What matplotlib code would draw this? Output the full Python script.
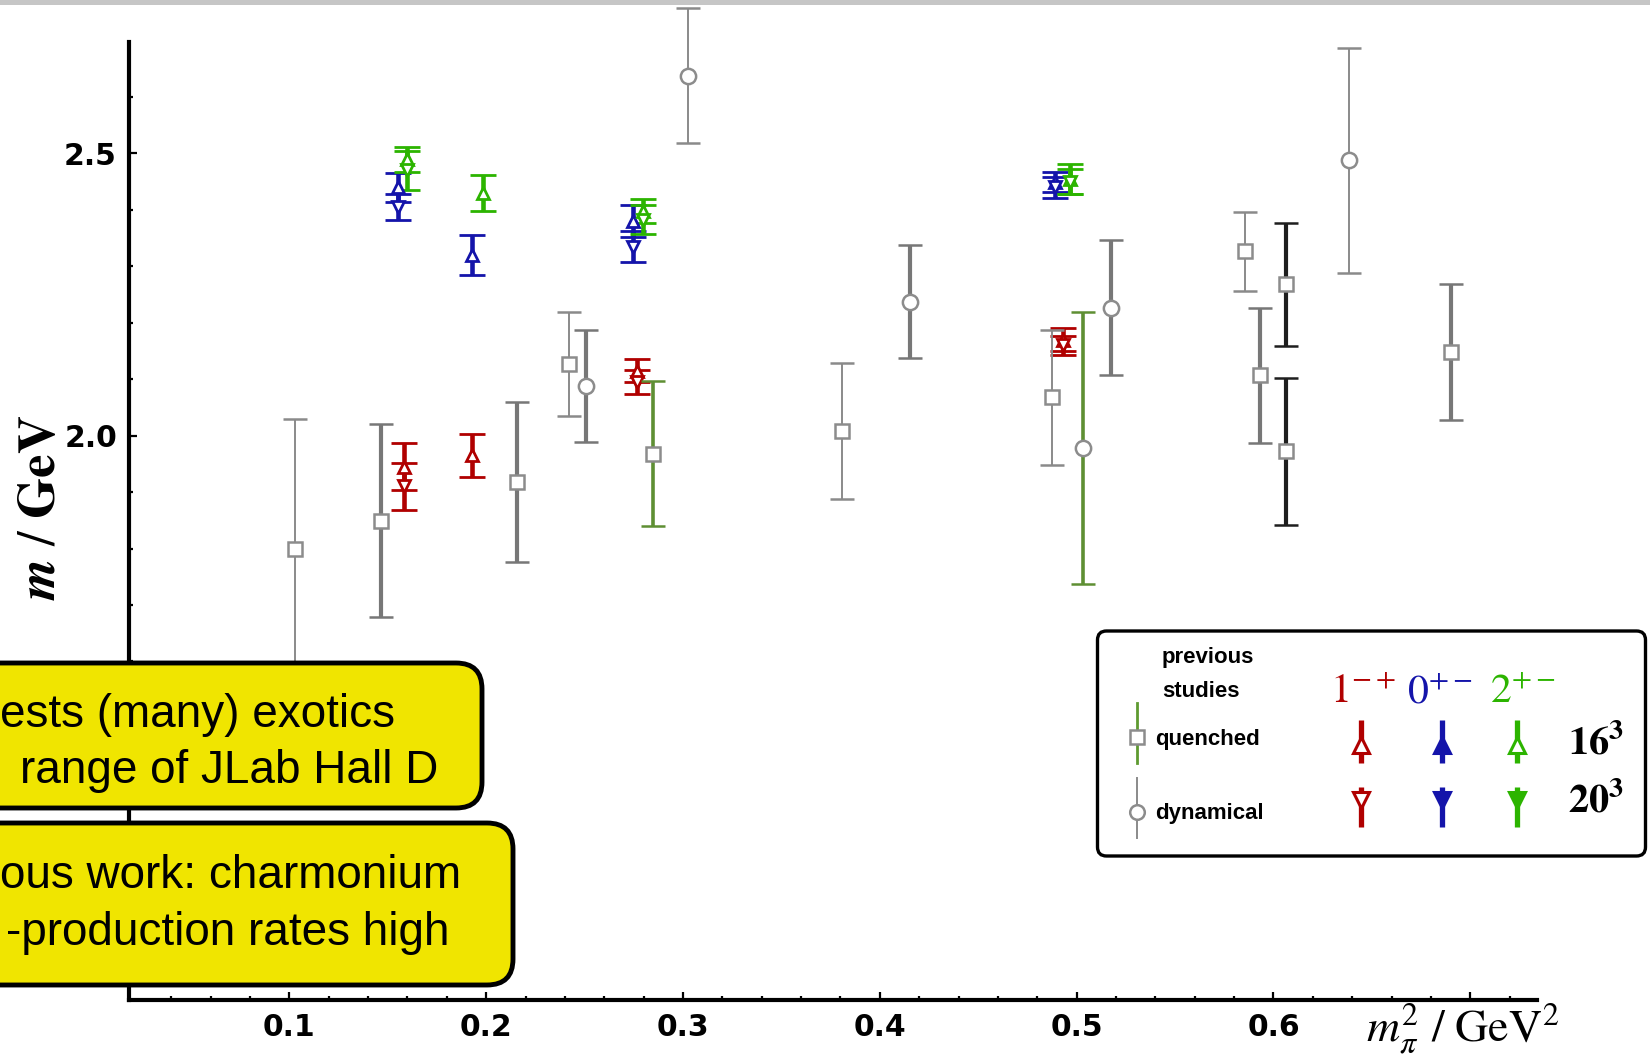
import matplotlib
matplotlib.use("Agg")
import matplotlib.pyplot as plt
from matplotlib.patches import FancyBboxPatch, Rectangle
from matplotlib.ticker import FixedLocator

plt.rcParams['mathtext.fontset'] = 'stix'

# ---------------- data ----------------
# previous studies, quenched (squares)
q_thin_x = [0.103, 0.242, 0.3806, 0.4875, 0.5853]
q_thin_y = [1.799, 2.127, 2.008, 2.068, 2.327]
q_thin_err = [0.231, 0.092, 0.121, 0.120, 0.070]

q_thick_x = [0.1465, 0.2155, 0.593, 0.690]
q_thick_y = [1.849, 1.918, 2.107, 2.148]
q_thick_err = [0.171, 0.141, 0.120, 0.121]

q_green_x = [0.2845]
q_green_y = [1.968]
q_green_err = [0.128]

q_black_x = [0.6066, 0.6066]
q_black_y = [2.268, 1.972]
q_black_err = [0.109, 0.130]

# previous studies, dynamical (circles)
d_thin_x = [0.3027, 0.6384]
d_thin_y = [2.638, 2.488]
d_thin_err = [0.119, 0.199]

d_thick_x = [0.2508, 0.4154, 0.5173]
d_thick_y = [2.088, 2.237, 2.227]
d_thick_err = [0.100, 0.100, 0.120]

d_green_x = [0.5033]
d_green_y = [1.978]
d_green_err = [0.241]

# this work: 1-+ (red), 0+- (blue), 2+- (green); 16^3 and 20^3 volumes
r16_x = [0.158, 0.193, 0.2765, 0.493]
r16_y = [1.945, 1.965, 2.115, 2.170]
r16_err = [0.042, 0.038, 0.020, 0.020]
r20_x = [0.158, 0.2765, 0.493]
r20_y = [1.910, 2.095, 2.160]
r20_err = [0.042, 0.022, 0.017]

b16_x = [0.155, 0.193, 0.2747, 0.489]
b16_y = [2.440, 2.320, 2.380, 2.450]
b16_err = [0.026, 0.035, 0.028, 0.018]
b20_x = [0.155, 0.2747, 0.489]
b20_y = [2.405, 2.335, 2.440]
b20_err = [0.023, 0.027, 0.018]

g16_x = [0.160, 0.1984, 0.2797, 0.4966]
g16_y = [2.490, 2.430, 2.398, 2.455]
g16_err = [0.022, 0.032, 0.022, 0.026]
g20_x = [0.160, 0.2797, 0.4966]
g20_y = [2.470, 2.383, 2.450]
g20_err = [0.035, 0.025, 0.022]

x_major = [0.1, 0.2, 0.3, 0.4, 0.5, 0.6, 0.7]
x_labels = ['0.1', '0.2', '0.3', '0.4', '0.5', '0.6', '']
y_major = [2.0, 2.5]
y_labels = ['2.0', '2.5']

box1_lines = ["ests (many) exotics", "range of JLab Hall D"]
box2_lines = ["ous work: charmonium", "-production rates high"]

# ---------------- figure ----------------
W, H = 1650, 1063
fig = plt.figure(figsize=(W / 100, H / 100), dpi=100)
fig.patch.set_facecolor('white')

ax_l, ax_r, ax_b, ax_t = 129.4, 1537, 1000, 0
ax = fig.add_axes([ax_l / W, 1 - ax_b / H, (ax_r - ax_l) / W, (ax_b - ax_t) / H])
ax.set_xlim(0.0187, 0.7339)
ax.set_ylim(1.0, 2.772)
for s in ['top', 'right']:
    ax.spines[s].set_visible(False)
for s in ['left', 'bottom']:
    ax.spines[s].set_linewidth(3)
ax.spines['left'].set_bounds(1.0, 2.698)
ax.patch.set_visible(False)

ax.xaxis.set_major_locator(FixedLocator(x_major))
ax.set_xticklabels(x_labels)
ax.xaxis.set_minor_locator(FixedLocator([0.04 + 0.02 * i for i in range(35) if round((0.04 + 0.02 * i) * 100) % 10 != 0]))
ax.yaxis.set_major_locator(FixedLocator(y_major))
ax.set_yticklabels(y_labels)
ax.yaxis.set_minor_locator(FixedLocator([1.1 + 0.1 * i for i in range(16) if abs(1.1 + 0.1 * i - 2.0) > 1e-6 and abs(1.1 + 0.1 * i - 2.5) > 1e-6]))
ax.tick_params(which='both', direction='in', width=1.6, pad=9)
ax.tick_params(which='major', length=5.5)
ax.tick_params(which='minor', length=3.2)
for lab in ax.get_xticklabels() + ax.get_yticklabels():
    lab.set_fontfamily('DejaVu Sans')
    lab.set_fontweight('bold')
    lab.set_fontsize(21.5)

# colored results
cols = {'r': '#b00000', 'b': '#1414aa', 'g': '#2cb400'}
def res(x, y, e, c, m):
    ax.errorbar(x, y, yerr=e, fmt=m, color=c, ecolor=c, elinewidth=3.3,
                capsize=9.2, capthick=3.6, ms=9, mfc='white', mec=c, mew=2.0,
                zorder=3)

res(r16_x, r16_y, r16_err, cols['r'], '^')
res(r20_x, r20_y, r20_err, cols['r'], 'v')
res(b16_x, b16_y, b16_err, cols['b'], '^')
res(b20_x, b20_y, b20_err, cols['b'], 'v')
res(g16_x, g16_y, g16_err, cols['g'], '^')
res(g20_x, g20_y, g20_err, cols['g'], 'v')

# previous studies
prev_styles = {
    'thin': dict(ecolor='#8a8a8a', elinewidth=1.4, capthick=1.8),
    'thick': dict(ecolor='#777777', elinewidth=3.0, capthick=3.0),
    'green': dict(ecolor='#5e8f33', elinewidth=2.6, capthick=2.8),
    'black': dict(ecolor='#1e1e1e', elinewidth=3.0, capthick=3.0),
}
def prev(x, y, e, style, m):
    ax.errorbar(x, y, yerr=e, fmt=m, ms=10.5 if m == 's' else 11, mfc='white',
                mec='#8c8c8c', mew=1.8, capsize=8.5, zorder=4, **prev_styles[style])

prev(q_thin_x, q_thin_y, q_thin_err, 'thin', 's')
prev(q_thick_x, q_thick_y, q_thick_err, 'thick', 's')
prev(q_green_x, q_green_y, q_green_err, 'green', 's')
prev(q_black_x, q_black_y, q_black_err, 'black', 's')
prev(d_thin_x, d_thin_y, d_thin_err, 'thin', 'o')
prev(d_thick_x, d_thick_y, d_thick_err, 'thick', 'o')
prev(d_green_x, d_green_y, d_green_err, 'green', 'o')

# ---------------- overlay in pixel coordinates ----------------
ov = fig.add_axes([0, 0, 1, 1])
ov.set_xlim(0, W)
ov.set_ylim(H, 0)
ov.axis('off')
ov.set_zorder(5)

# top gray strip
ov.add_patch(Rectangle((0, 0), W, 5, color='#c6c6c6', lw=0))

# axis labels
ov.text(40, 507, r'$\boldsymbol{m}\ /\ \mathbf{GeV}$', rotation=90, ha='center', va='center',
        fontsize=38)
ov.text(1366, 1042, r'$m_\pi^2\ /\ \mathrm{GeV}^2$', ha='left', va='baseline', fontsize=33)

# yellow boxes
yellow = '#f0e500'
ov.add_patch(FancyBboxPatch((-60, 663), 542, 145, boxstyle='round,pad=0,rounding_size=26',
                            fc=yellow, ec='black', lw=3.5))
ov.add_patch(FancyBboxPatch((-60, 823), 573, 162, boxstyle='round,pad=0,rounding_size=26',
                            fc=yellow, ec='black', lw=3.5))
bfont = dict(family='Liberation Sans', fontsize=33, va='baseline')
ov.text(0, 727, box1_lines[0], ha='left', **bfont)
ov.text(438, 783, box1_lines[1], ha='right', **bfont)
ov.text(0, 888, box2_lines[0], ha='left', **bfont)
ov.text(449, 945, box2_lines[1], ha='right', **bfont)

# legend box
ov.add_patch(FancyBboxPatch((1097.5, 631), 548, 225, boxstyle='round,pad=0,rounding_size=9',
                            fc='white', ec='black', lw=2.4))
lfont = dict(family='Liberation Sans', fontweight='bold', fontsize=16, ha='left')
ov.text(1162, 663, 'previous', va='baseline', **lfont)
ov.text(1162, 697, 'studies', va='baseline', **lfont)
ov.text(1155, 740, 'quenched', va='center', **lfont)
ov.text(1155, 813, 'dynamical', va='center', **lfont)

ov.plot([1137, 1137], [703, 763], color='#5e9a30', lw=2.0)
ov.plot([1137], [737], marker='s', ms=10.5, mfc='white', mec='#8c8c8c', mew=1.8)
ov.plot([1137, 1137], [778, 838], color='#8a8a8a', lw=1.4)
ov.plot([1137], [812], marker='o', ms=10.5, mfc='white', mec='#8c8c8c', mew=1.8)

ov.text(1330, 703, r'$1^{-+}$', color=cols['r'], fontsize=30, va='baseline', ha='left')
ov.text(1407, 703, r'$0^{+-}$', color=cols['b'], fontsize=30, va='baseline', ha='left')
ov.text(1490, 703, r'$2^{+-}$', color=cols['g'], fontsize=30, va='baseline', ha='left')

key_x = [1361, 1442, 1517]
key_c = [cols['r'], cols['b'], cols['g']]
up_fill = ['white', cols['b'], 'white']
dn_fill = ['white', cols['b'], cols['g']]
for kx, kc, uf, df in zip(key_x, key_c, up_fill, dn_fill):
    ov.plot([kx, kx], [720, 763], color=kc, lw=3.8, solid_capstyle='butt')
    ov.plot([kx], [745], marker='^', ms=12, mfc=uf, mec=kc, mew=2.2)
    ov.plot([kx, kx], [787, 827], color=kc, lw=3.8, solid_capstyle='butt')
    ov.plot([kx], [800], marker='v', ms=12, mfc=df, mec=kc, mew=2.2)

ov.text(1568, 742, r'$\mathbf{16}^\mathbf{3}$', fontsize=29, va='center', ha='left')
ov.text(1568, 800, r'$\mathbf{20}^\mathbf{3}$', fontsize=29, va='center', ha='left')

fig.savefig('out.png', dpi=100)
